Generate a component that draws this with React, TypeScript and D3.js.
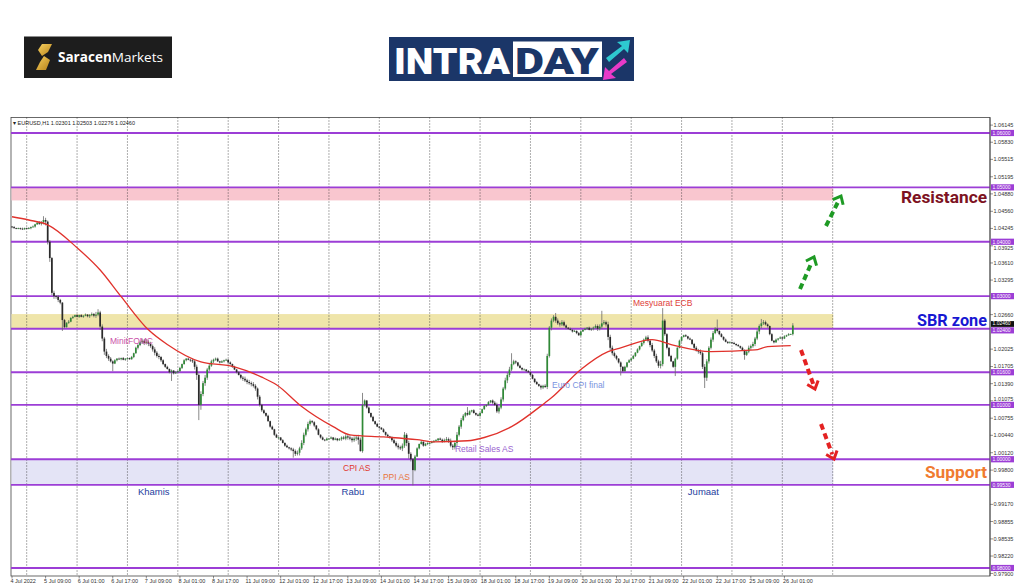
import React from 'react';
import * as d3 from 'd3';

// ---------- DATA (prices in pips above 1.0000) ----------
const dayNames = ['4 Jul','5 Jul','6 Jul','7 Jul','8 Jul','11 Jul','12 Jul','13 Jul','14 Jul','15 Jul','18 Jul','19 Jul','20 Jul','21 Jul','22 Jul','25 Jul','26 Jul'];
const c0704 = [427,425,424,425,424,423,425];
const c0705 = [424,425,427,428,432,435,433,436,440,437,400,370,306,300,299,293,288,256,243,251,253,260,262,265];
const c0706 = [262,265,262,264,266,263,265,267,264,266,270,244,222,198,190,185,180,176,182,185,184,186,183,185];
const c0707 = [186,184,188,195,205,210,215,218,214,216,212,208,202,196,190,188,182,175,170,166,160,163,158,160];
const c0708 = [162,168,175,182,185,183,182,180,170,155,100,120,140,150,165,172,180,183,185,180,178,180,182,183];
const c0711 = [178,175,170,165,160,155,150,148,145,142,140,138,135,130,115,100,90,85,80,70,60,55,45,40];
const c0712 = [40,35,30,25,22,20,18,15,10,12,20,30,45,55,65,70,68,62,55,45,40,36,35,38];
const c0713 = [38,40,36,38,35,37,40,38,42,40,38,35,38,40,36,15,100,108,95,85,78,70,65,60];
const c0714 = [58,55,50,45,42,40,35,30,25,22,20,25,45,30,10,0,-20,5,20,28,32,25,28,30];
const c0715 = [30,32,34,35,38,36,33,35,37,34,25,22,30,45,60,72,80,85,82,88,90,85,82,80];
const c0718 = [85,92,98,100,105,108,104,100,88,95,110,130,145,155,165,175,180,178,172,168,165,165,162,160];
const c0719 = [155,148,142,138,135,132,135,133,190,242,255,262,255,250,248,252,246,242,240,238,235,236,232,228];
const c0720 = [235,238,240,242,238,240,242,245,240,244,250,252,248,225,205,195,190,185,178,170,162,170,178,182];
const c0721 = [185,190,196,202,208,214,220,224,218,210,200,190,180,172,175,255,230,205,190,180,170,185,205,218];
const c0722 = [225,228,226,222,220,212,205,200,198,195,170,150,180,205,220,232,240,236,230,225,220,216,214,215];
const c0725 = [214,212,210,208,205,200,192,198,205,208,212,222,235,245,250,252,248,245,230,218,215,220,222,224];
const c0726 = [222,226,228,230,230,246];

// upper / lower wicks in pips, one digit per hourly bar
const u0704 = '1211121', l0704 = '2111211';
const u0705 = '121213323423242321213121', l0705 = '112121234757454433212121';
const u0706 = '212121232543435332212121', l0706 = '121212323436564423121212';
const u0707 = '112123343534343422121212', l0707 = '211213234343453432212121';
const u0708 = '121212233435453432121212', l0708 = '112121335969454323212121';
const u0711 = '121212234343432322121212', l0711 = '212121343434345332212121';
const u0712 = '112121233435434322121212', l0712 = '211212324353434323212121';
const u0713 = '121212234343435432121212', l0713 = '212121323434349533212121';
const u0714 = '112121233434534323212121', l0714 = '211212323435469432121212';
const u0715 = '121212234343453432121212', l0715 = '212121323435463423212121';
const u0718 = '112121234343545432121212', l0718 = '211212323434354323212121';
const u0719 = '121212234343543432121212', l0719 = '212121324353434323212121';
const u0720 = '112121233434354432121212', l0720 = '211212324343465433212121';
const u0721 = '121212234343436532121212', l0721 = '212121323434345433212121';
const u0722 = '112121233435434432121212', l0722 = '211212324345643423212121';
const u0725 = '121212234343435432121212', l0725 = '212121323434354323212121';
const u0726 = '121210', l0726 = '211110';

const firstOpen = 428;
const hiIdx = [15, 41, 62, 97, 142, 167, 217, 238, 259, 281, 310, 336, 357, 372];
const hiVal = [447, 276, 222, 187, 73, 122, 96, 195, 269, 273, 278, 257, 258, 250.3];
const loIdx = [24, 48, 76, 89, 134, 166, 191, 252, 290, 316, 330, 349, 372];
const loVal = [236, 162, 144, 72, 3, 14, -48, 128, 154, 153, 131, 183, 227.6];
const lastOpen = 230.1;

// moving average (red)
const maIdx = [0, 8, 17, 31, 42, 52, 65, 74, 90, 106, 119, 126, 138, 153, 161, 177, 193, 201, 217, 225, 238, 254, 257, 271, 284, 290, 305, 314, 333, 354, 360, 371];
const maVal = [446, 440, 431, 389, 348, 299, 238, 211, 179, 170, 151, 137, 97, 60, 45, 41, 36, 32, 34, 40, 60, 104, 113, 165, 198, 205, 220, 211, 198, 201, 207, 209];

// axes
const timeLabels = ['4 Jul 2022','5 Jul 09:00','6 Jul 01:00','6 Jul 17:00','7 Jul 09:00','8 Jul 01:00','8 Jul 17:00','11 Jul 09:00','12 Jul 01:00','12 Jul 17:00','13 Jul 09:00','14 Jul 01:00','14 Jul 17:00','15 Jul 09:00','18 Jul 01:00','18 Jul 17:00','19 Jul 09:00','20 Jul 01:00','20 Jul 17:00','21 Jul 09:00','22 Jul 01:00','22 Jul 17:00','25 Jul 09:00','26 Jul 01:00'];
const daySeparators = [7,31,55,79,103,127,151,175,199,223,247,271,295,319,343,367,391];
const priceTicks = [1.06145,1.05830,1.05515,1.05195,1.04880,1.04560,1.04245,1.03925,1.03610,1.03295,1.02660,1.02025,1.01705,1.01390,1.01075,1.00755,1.00440,1.00120,0.99800,0.99170,0.98855,0.98535,0.98220,0.97900];
const levels = [1.06,1.05,1.04,1.03,1.024,1.016,1.01,1.00,0.9953,0.98];
const currentPrice = 1.0246;

// zones
const zoneNames = ['Resistance','SBR zone','Support'];
const zoneLow = [1.0476, 1.024, 0.9953];
const zoneHigh = [1.05, 1.0267, 1.0];

// annotations (text anchored at bar index / price)
const eventTexts = ['MinitFOMC','CPI AS','PPI AS','Retail Sales AS','Euro CPI final','Mesyuarat ECB'];
const eventIdx = [46.7, 157.7, 176.7, 211, 257.3, 295.8];
const eventPrice = [1.0212, 0.99784, 0.99618, 1.00138, 1.01315, 1.02818];
const weekdayTexts = ['Khamis','Rabu','Jumaat'];
const weekdayIdx = [60, 157, 322];

// ---------- helpers ----------
const W = 1024, H = 587;
const L = 11, R = 990, T = 117.5, B = 576;

const pipsToPrice = (p: number) => 1 + p / 10000;

const allCloses = [c0704,c0705,c0706,c0707,c0708,c0711,c0712,c0713,c0714,c0715,c0718,c0719,c0720,c0721,c0722,c0725,c0726].flat();
const allUp = [u0704,u0705,u0706,u0707,u0708,u0711,u0712,u0713,u0714,u0715,u0718,u0719,u0720,u0721,u0722,u0725,u0726].join('').split('').map(Number);
const allLo = [l0704,l0705,l0706,l0707,l0708,l0711,l0712,l0713,l0714,l0715,l0718,l0719,l0720,l0721,l0722,l0725,l0726].join('').split('').map(Number);

const candles = allCloses.map((c, i) => {
  const o = i === 0 ? firstOpen : (i === allCloses.length - 1 ? lastOpen : allCloses[i - 1]);
  let h = Math.max(o, c) + allUp[i];
  let l = Math.min(o, c) - allLo[i];
  const hk = hiIdx.indexOf(i);
  if (hk >= 0) h = Math.max(Math.max(o, c), hiVal[hk]);
  const lk = loIdx.indexOf(i);
  if (lk >= 0) l = Math.min(Math.min(o, c), loVal[lk]);
  return { i, o: pipsToPrice(o), h: pipsToPrice(h), l: pipsToPrice(l), c: pipsToPrice(c) };
});

function Arrow({ x1, y1, x2, y2, color }: { x1: number; y1: number; x2: number; y2: number; color: string }) {
  const ang = Math.atan2(y2 - y1, x2 - x1);
  const len = 9;
  const spread = 0.7;
  const ax = x2 - len * Math.cos(ang - spread), ay = y2 - len * Math.sin(ang - spread);
  const bx = x2 - len * Math.cos(ang + spread), by = y2 - len * Math.sin(ang + spread);
  const ex = x2 - 5 * Math.cos(ang), ey = y2 - 5 * Math.sin(ang);
  return (
    <g>
      <line x1={x1} y1={y1} x2={ex} y2={ey} stroke={color} strokeWidth={4} strokeDasharray="6,4" />
      <polyline points={`${ax},${ay} ${x2},${y2} ${bx},${by}`} fill="none" stroke={color} strokeWidth={3} strokeLinejoin="miter" />
    </g>
  );
}

export default function App() {
  const x = d3.scaleLinear().domain([0, 391]).range([12, 832.7]);
  const y = d3.scaleLinear().domain([0.98, 1.06]).range([568, 133]);
  const fmt = d3.format('.5f');
  const ma = d3.line<number>().x((d, k) => x(maIdx[k])).y(d => y(pipsToPrice(d))).curve(d3.curveMonotoneX);
  const zoneFill = ['#f9c6cf', '#efe5aa', '#e4e4f6'];
  const zoneTextColor = ['#7d1222', '#1717d2', '#f07b30'];
  const zoneTextW = [86, 70, 62];
  const eventColor = ['#c94ea8', '#e0342c', '#e8743a', '#9a63cf', '#7a93e0', '#e0403a'];
  const axisFont = 'Liberation Sans, Arial, sans-serif';

  // keep grey tick labels clear of the purple level boxes
  const tickY = (p: number) => {
    let ty = y(p);
    levels.forEach((lv) => {
      const d = ty - y(lv);
      if (Math.abs(d) < 6) ty = y(lv) + (d < 0 ? -6 : 6);
    });
    return ty;
  };

  return (
    <svg width={W} height={H} style={{ position: 'absolute', left: 0, top: 0, background: '#fff' }}>
      <rect x={0} y={0} width={W} height={H} fill="#fff" />
      {/* Saracen logo */}
      <rect x={24} y={36.5} width={148} height={41.5} fill="#1d1d1d" />
      <defs>
        <linearGradient id="gold" x1="0" y1="0" x2="1" y2="1">
          <stop offset="0" stopColor="#f7d160" />
          <stop offset="1" stopColor="#b9831a" />
        </linearGradient>
      </defs>
      <path d="M42 44 L52 44 L48 52 L42 56 L38 50 Z" fill="url(#gold)" />
      <path d="M44 56 L50 60 L46 70 L36 70 L40 62 Z" fill="url(#gold)" />
      <text x={58} y={62} fontFamily="Open Sans, sans-serif" fontSize={13.5} fill="#fff" textLength={105} lengthAdjust="spacingAndGlyphs">
        <tspan fontWeight={700}>Saracen</tspan><tspan fontWeight={400}>Markets</tspan>
      </text>
      {/* INTRADAY logo */}
      <rect x={389} y={37} width={245} height={44} fill="#1b3668" />
      <text x={394} y={74} fontFamily="Roboto, sans-serif" fontWeight={900} fontSize={36} fill="#fff" textLength={116} lengthAdjust="spacingAndGlyphs">INTRA</text>
      <rect x={513} y={41.5} width={89} height={35.5} fill="#fff" />
      <text x={515} y={74} fontFamily="Roboto, sans-serif" fontWeight={900} fontSize={36} fill="#1b3668" textLength={84} lengthAdjust="spacingAndGlyphs">DAY</text>
      <polygon points="606,58 622,46 617,42 630,40 628,53 624,49 609,62" fill="#2ec9d0" />
      <polygon points="627,62 611,74 616,78 603,80 605,67 609,71 624,58" fill="#e83ac8" />

      {/* chart frame */}
      <rect x={L} y={T} width={R - L} height={B - T} fill="#fff" stroke="#444" strokeWidth={0.8} />

      {/* zones */}
      {zoneLow.map((lo, k) => (
        <rect key={'z' + k} x={L + 0.5} y={y(zoneHigh[k])} width={x(391) - L} height={y(lo) - y(zoneHigh[k])} fill={zoneFill[k]} />
      ))}

      {/* day separators */}
      {daySeparators.map((d) => (
        <line key={'g' + d} x1={x(d)} x2={x(d)} y1={T} y2={B} stroke="#333" strokeWidth={0.8} strokeDasharray="1,2" />
      ))}

      {/* levels */}
      {levels.map((lv) => (
        <line key={'lv' + lv} x1={L} x2={R} y1={y(lv)} y2={y(lv)} stroke="#9c3ed6" strokeWidth={1.8} />
      ))}

      {/* candles */}
      {candles.map((cd) => {
        const up = cd.c >= cd.o;
        const top = y(Math.max(cd.o, cd.c));
        const bot = y(Math.min(cd.o, cd.c));
        return (
          <g key={'c' + cd.i}>
            <line x1={x(cd.i)} x2={x(cd.i)} y1={y(cd.h)} y2={y(cd.l)} stroke="#6b6b6b" strokeWidth={0.8} />
            <rect x={x(cd.i) - 0.85} y={top} width={1.7} height={Math.max(0.8, bot - top)} fill={up ? '#2f8a36' : '#2a2a2a'} />
          </g>
        );
      })}

      {/* moving average */}
      <path d={ma(maVal) || ''} fill="none" stroke="#e0322c" strokeWidth={1.3} />

      {/* event labels */}
      {eventTexts.map((t, k) => (
        <text key={t} x={x(eventIdx[k])} y={y(eventPrice[k])} fontFamily={axisFont} fontSize={8.5} fill={eventColor[k]}>{t}</text>
      ))}
      {weekdayTexts.map((t, k) => (
        <text key={t} x={x(weekdayIdx[k])} y={495} fontFamily={axisFont} fontSize={9.5} fill="#25409e">{t}</text>
      ))}

      {/* arrows */}
      <Arrow x1={800} y1={289} x2={814} y2={257} color="#1e9a24" />
      <Arrow x1={826} y1={226} x2={841} y2={196} color="#1e9a24" />
      <Arrow x1={801} y1={350} x2={815} y2={389} color="#e42222" />
      <Arrow x1={821} y1={424} x2={834} y2={459} color="#e42222" />

      {/* zone captions */}
      {zoneNames.map((n, k) => (
        <text key={n} x={987} y={k === 2 ? 478 : (k === 0 ? 203 : 326)} textAnchor="end" fontFamily="Roboto, sans-serif" fontWeight={700} fontSize={17} fill={zoneTextColor[k]} textLength={zoneTextW[k]} lengthAdjust="spacingAndGlyphs">{n}</text>
      ))}

      {/* right axis */}
      <line x1={R} x2={R} y1={T} y2={B} stroke="#444" strokeWidth={0.8} />
      {priceTicks.map((p) => (
        <g key={'pt' + p}>
          <line x1={R} x2={R + 3} y1={y(p)} y2={y(p)} stroke="#444" strokeWidth={0.6} />
          <text x={R + 3.5} y={tickY(p) + 2} fontFamily={axisFont} fontSize={5.5} fill="#333">{fmt(p)}</text>
        </g>
      ))}
      {levels.map((lv) => {
        const cy = lv === 1.024 ? y(lv) + 1.6 : y(lv);
        return (
          <g key={'ll' + lv}>
            <rect x={R + 1} y={cy - 3.1} width={23} height={6.2} fill="#9c3ed6" />
            <text x={R + 2.5} y={cy + 1.8} fontFamily={axisFont} fontSize={5} fill="#fff">{fmt(lv)}</text>
          </g>
        );
      })}
      <rect x={R + 1} y={y(currentPrice) - 4.4} width={23} height={5.8} fill="#111" />
      <text x={R + 2.5} y={y(currentPrice) - 0.3} fontFamily={axisFont} fontSize={5} fill="#fff">{fmt(currentPrice)}</text>

      {/* time axis */}
      {timeLabels.map((t, k) => (
        <g key={t}>
          <line x1={x(k * 16)} x2={x(k * 16)} y1={B} y2={B + 2.5} stroke="#444" strokeWidth={0.6} />
          <text x={x(k * 16) - 1.5} y={583} fontFamily={axisFont} fontSize={5.5} fill="#333">{t}</text>
        </g>
      ))}

      {/* header */}
      <text x={13} y={124.5} fontFamily={axisFont} fontSize={5.5} fill="#222">▾ EURUSD,H1  1.02301 1.02503 1.02276 1.02460</text>
    </svg>
  );
}
